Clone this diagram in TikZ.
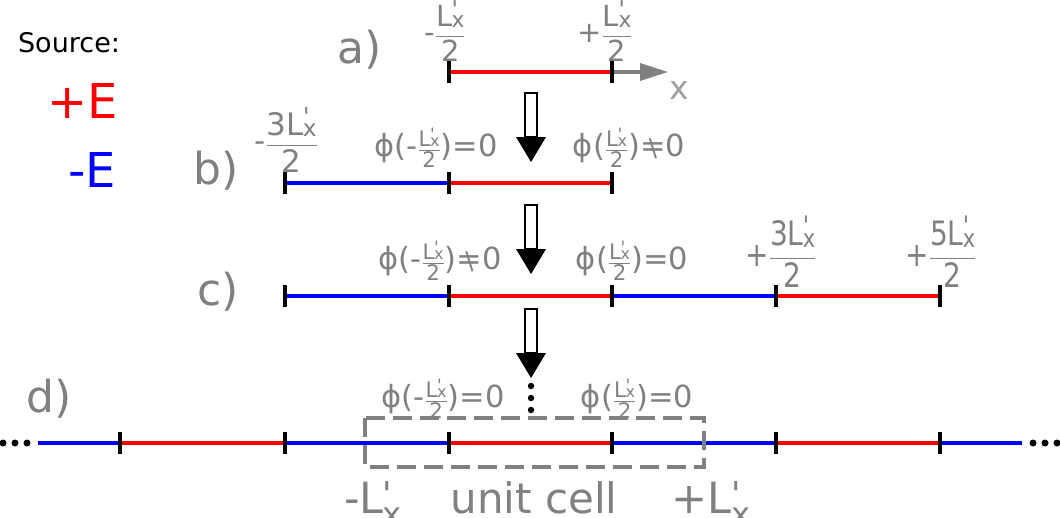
\documentclass[tikz,border=0pt]{standalone}
\usepackage{fontspec}
\usepackage{amsmath}
\setmainfont{DejaVu Sans}
\usetikzlibrary{arrows.meta}
\definecolor{tg}{HTML}{808080}
\definecolor{xg}{HTML}{A0A0A0}
\newcommand\fsz[1]{\fontsize{#1}{#1}\selectfont}
% L with prime and subscript x: #1 = lowering of x, #2 = raise of prime
\newcommand\Lxp[2]{L\kern-.02em\rlap{\raisebox{#2}{\scalebox{.8}{\textquotesingle}}}\raisebox{#1}{\scalebox{.75}{x}}}
\newcommand\hfr[1]{$\displaystyle\frac{\text{#1}}{\text{2}}$}
\newcommand\sfr[1]{$\frac{\text{#1}}{\text{2}}$}
\newcommand\neqb{\ooalign{=\cr\hidewidth\scalebox{.8}{\textbackslash}\hidewidth\cr}}
\begin{document}
\begin{tikzpicture}[x=1pt,y=-1pt,
  segline/.style={line width=4pt},
  possrc/.style={segline, red},
  negsrc/.style={segline, blue},
  tickm/.style={line width=3.5pt, black},
  lab/.style={text=tg, inner sep=0pt},
  phil/.style={lab, font=\fsz{30.5}},
  dotm/.style={fill=black},
  darrow/.pic={\draw[line width=2pt, fill=white] (-6,0) rectangle (6,44);
               \fill (-15,44) -- (15,44) -- (0,69) -- cycle;}]
\useasboundingbox (0,0) rectangle (1060,517);

% coordinates
\coordinate (a1) at (449,72); \coordinate (a2) at (612,72); \coordinate (ax) at (668,72);
\coordinate (b0) at (285,183); \coordinate (b1) at (449,183); \coordinate (b2) at (612,183);
\coordinate (c0) at (285,296); \coordinate (c1) at (449,296); \coordinate (c2) at (612,296);
\coordinate (c3) at (776,296); \coordinate (c4) at (940,296);
\coordinate (dL) at (38,443); \coordinate (dR) at (1022,443);
\coordinate (d0) at (120,443); \coordinate (d1) at (285,443); \coordinate (d2) at (449,443);
\coordinate (d3) at (612,443); \coordinate (d4) at (776,443); \coordinate (d5) at (940,443);

% legend
\node[inner sep=0pt, font=\fsz{27}] (src) at (69,43) {Source:};
\node[inner sep=0pt, font=\fsz{48}, text=red] (pe) at (83,101) {+E};
\node[inner sep=0pt, font=\fsz{48}, text=blue] (me) at (92,170) {-E};

% row labels
\node[lab, font=\fsz{44}] (la) at (360,50) {a)};
\node[lab, font=\fsz{44}] (lb) at (216,171) {b)};
\node[lab, font=\fsz{44}] (lc) at (218,292) {c)};
\node[lab, font=\fsz{44}] (ld) at (49,399) {d)};

% row a
\draw[possrc] (a1) -- (a2);
\draw[tg, line width=3.5pt, -{Triangle[length=28pt,width=17pt]}] (a2) -- (ax);
\node[lab, font=\fsz{33}, text=xg] (xl) at (679,90) {x};
\node[lab, font=\fsz{29}] (ta1) at (445,31) {-\hfr{\Lxp{-.05em}{.3em}}};
\node[lab, font=\fsz{29}] (ta2) at (605,31) {+\hfr{\Lxp{-.05em}{.3em}}};

% row b
\draw[negsrc] (b0) -- (b1);
\draw[possrc] (b1) -- (b2);
\node[lab, font=\fsz{31}] (tb0) at (286,140) {-\hfr{3\Lxp{-.05em}{.3em}}};
\node[phil] (pb1) at (436,148) {ϕ(-\sfr{\Lxp{0em}{.3em}})=0};
\node[phil] (pb2) at (629,148) {ϕ(\sfr{\Lxp{0em}{.3em}})\neqb0};

% row c
\draw[negsrc] (c0) -- (c1);
\draw[possrc] (c1) -- (c2);
\draw[negsrc] (c2) -- (c3);
\draw[possrc] (c3) -- (c4);
\node[phil] (pc1) at (440,261) {ϕ(-\sfr{\Lxp{0em}{.3em}})\neqb0};
\node[phil] (pc2) at (632,261) {ϕ(\sfr{\Lxp{0em}{.3em}})=0};
\node[lab, font=\fsz{28}] (tc3) at (781,252) {\scalebox{1}[1.2]{+\hfr{3\Lxp{-.05em}{.3em}}}};
\node[lab, font=\fsz{28}] (tc4) at (941,252) {\scalebox{1}[1.2]{+\hfr{5\Lxp{-.05em}{.3em}}}};

% row d
\draw[negsrc] (dL) -- (d0);
\draw[possrc] (d0) -- (d1);
\draw[negsrc] (d1) -- (d2);
\draw[possrc] (d2) -- (d3);
\draw[negsrc] (d3) -- (d4);
\draw[possrc] (d4) -- (d5);
\draw[negsrc] (d5) -- (dR);
\node[phil] (pd1) at (443,399) {ϕ(-\sfr{\Lxp{0em}{.3em}})=0};
\node[phil] (pd2) at (637,399) {ϕ(\sfr{\Lxp{0em}{.3em}})=0};
\draw[tg, line width=3.5pt, dash pattern=on 19pt off 8pt] (365,418) rectangle (704,467);
\node[lab, font=\fsz{43}, anchor=base] (ul) at (373,513) {-\Lxp{-.3em}{.15em}};
\node[lab, font=\fsz{42}, anchor=base] (uc) at (534,513) {unit cell};
\node[lab, font=\fsz{43}, anchor=base] (ur) at (711,513) {+\Lxp{-.3em}{.15em}};

% ticks
\foreach \c in {a1,a2,b0,b1,b2,c0,c1,c2,c3,c4,d0,d1,d2,d3,d4,d5}
  \draw[tickm] ([yshift=11pt]\c) -- ([yshift=-11pt]\c);

% down arrows
\pic at (531,93) {darrow};
\pic at (531,205) {darrow};
\pic at (531,309) {darrow};

% dots
\foreach \y in {386,398,410} \fill[dotm] (531,\y) circle (3.2);
\foreach \x in {3,15,27,1033,1045,1057} \fill[dotm] (\x,443) circle (3.5);
\end{tikzpicture}
\end{document}
